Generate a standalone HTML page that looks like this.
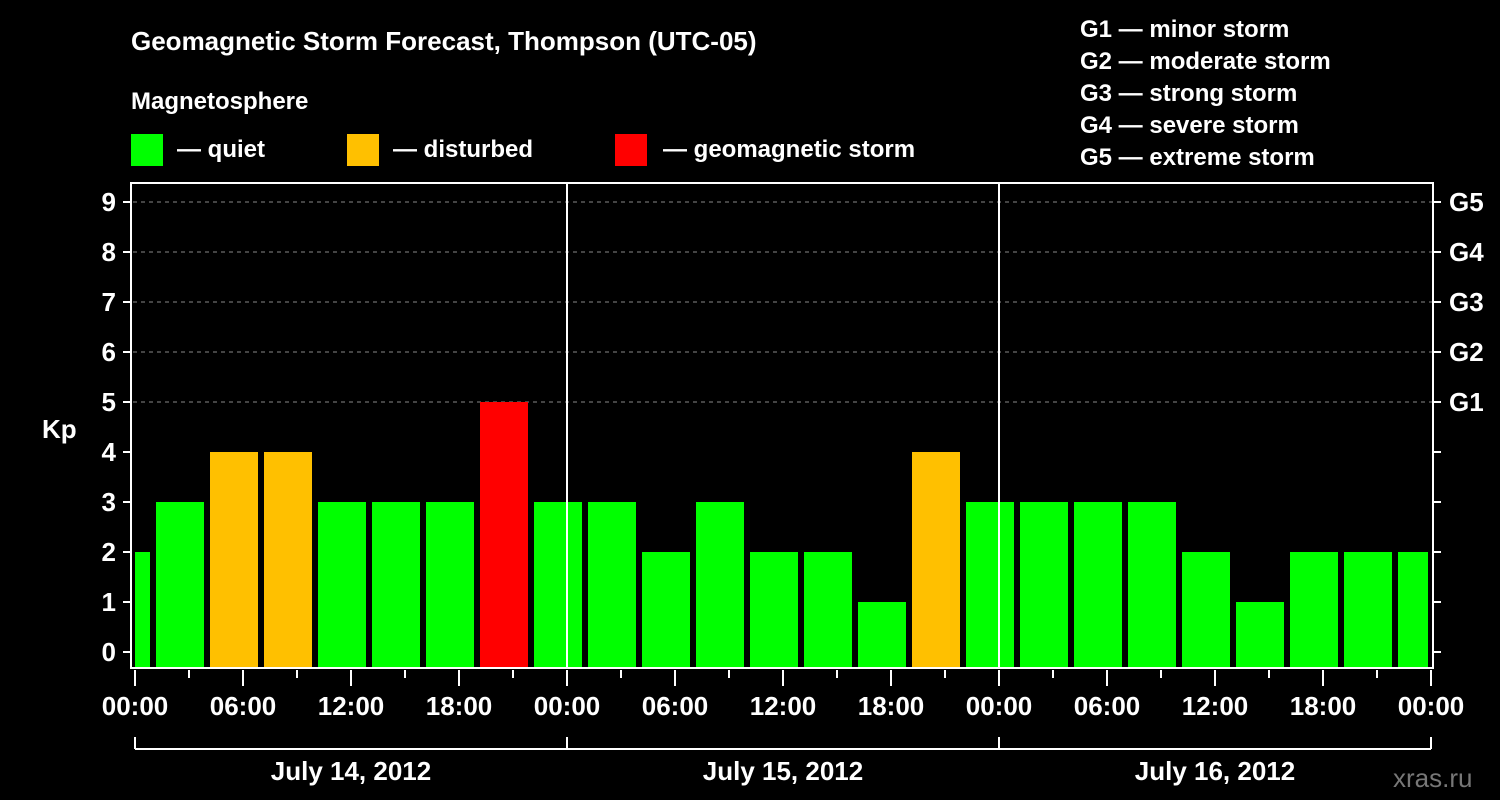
<!DOCTYPE html>
<html><head><meta charset="utf-8"><style>
body{margin:0;background:#000;width:1500px;height:800px;overflow:hidden}
svg{display:block;font-family:"Liberation Sans",Arial,sans-serif;font-weight:bold}
</style></head><body>
<svg id="c" width="1500" height="800">
<text x="131" y="50" fill="#fff" font-size="26">Geomagnetic Storm Forecast, Thompson (UTC-05)</text>
<text x="131" y="109" fill="#fff" font-size="24">Magnetosphere</text>
<g><rect x="131" y="134" width="32" height="32" fill="#00ff00"/><text x="177" y="157" fill="#fff" font-size="24">— quiet</text></g>
<g><rect x="347" y="134" width="32" height="32" fill="#ffc000"/><text x="393" y="157" fill="#fff" font-size="24">— disturbed</text></g>
<g><rect x="615" y="134" width="32" height="32" fill="#ff0000"/><text x="663" y="157" fill="#fff" font-size="24">— geomagnetic storm</text></g>
<g fill="#fff" font-size="24">
<text x="1080" y="37">G1 — minor storm</text><text x="1080" y="69">G2 — moderate storm</text><text x="1080" y="101">G3 — strong storm</text><text x="1080" y="133">G4 — severe storm</text><text x="1080" y="165">G5 — extreme storm</text></g>
<text x="42" y="438" fill="#fff" font-size="26">Kp</text>
<text x="1393" y="787" fill="#777" font-size="26" font-weight="normal">xras.ru</text>
<g id="plot"></g>
</svg>
<script>
const kpValues=[2,3,4,4,3,3,3,5,3,3,2,3,2,2,1,4,3,3,3,3,2,1,2,2,2];
const dayLabels=["July 14, 2012","July 15, 2012","July 16, 2012"];
const yTicks=[0,1,2,3,4,5,6,7,8,9];
const gLabels=["G1","G2","G3","G4","G5"];
const timeLabels=["00:00","06:00","12:00","18:00"];
const NS="http://www.w3.org/2000/svg";
const g=document.getElementById('plot');
const X0=135,PXH=18,Y0=652,PXU=50;
const xs=h=>X0+h*PXH, ys=v=>Y0-v*PXU;
function mk(t,a){const e=document.createElementNS(NS,t);for(const k in a)e.setAttribute(k,a[k]);g.appendChild(e);return e;}
// grid
for(let v=5;v<=9;v++){const e=mk('line',{x1:133,x2:1433,y1:ys(v),y2:ys(v),stroke:'#888','stroke-dasharray':'4 4','stroke-width':1});

}
// bars
kpValues.forEach((v,i)=>{let a=xs(i*3-2)+3,b=xs(i*3+1)-3;a=Math.max(a,xs(0));b=Math.min(b,xs(72)-3);
const c=v>=5?'#ff0000':v>=4?'#ffc000':'#00ff00';
const r=mk('rect',{x:a,y:ys(v),width:b-a,height:668-ys(v),fill:c});

});
// day separators
[24,48].forEach(h=>{const e=mk('line',{x1:xs(h),x2:xs(h),y1:183,y2:668,stroke:'#fff','stroke-width':2});

});
// frame
const f=mk('rect',{x:131,y:183,width:1302,height:485,fill:'none',stroke:'#fff','stroke-width':2});


// y ticks
yTicks.forEach(v=>{mk('line',{x1:123,x2:131,y1:ys(v),y2:ys(v),stroke:'#fff','stroke-width':2});
mk('line',{x1:1433,x2:1441,y1:ys(v),y2:ys(v),stroke:'#fff','stroke-width':2});
const t=mk('text',{x:116,y:ys(v)+9,fill:'#fff','font-size':26,'text-anchor':'end'});t.textContent=v;

});
gLabels.forEach((l,i)=>{const t=mk('text',{x:1449,y:ys(5+i)+9,fill:'#fff','font-size':26});t.textContent=l;

});
// x ticks
for(let h=0;h<=72;h+=3){const major=h%6===0;mk('line',{x1:xs(h),x2:xs(h),y1:670,y2:major?686:678,stroke:'#fff','stroke-width':2});
if(major){const t=mk('text',{x:xs(h),y:715,fill:'#fff','font-size':26,'text-anchor':'middle'});t.textContent=timeLabels[(h/6)%4];

}}
// day bracket
mk('line',{x1:xs(0),x2:xs(72),y1:749,y2:749,stroke:'#fff','stroke-width':2});
for(let d=0;d<=3;d++)mk('line',{x1:xs(d*24),x2:xs(d*24),y1:737,y2:749,stroke:'#fff','stroke-width':2});
dayLabels.forEach((l,d)=>{const t=mk('text',{x:xs(d*24+12),y:780,fill:'#fff','font-size':26,'text-anchor':'middle'});t.textContent=l;

});
</script>
</body></html>
